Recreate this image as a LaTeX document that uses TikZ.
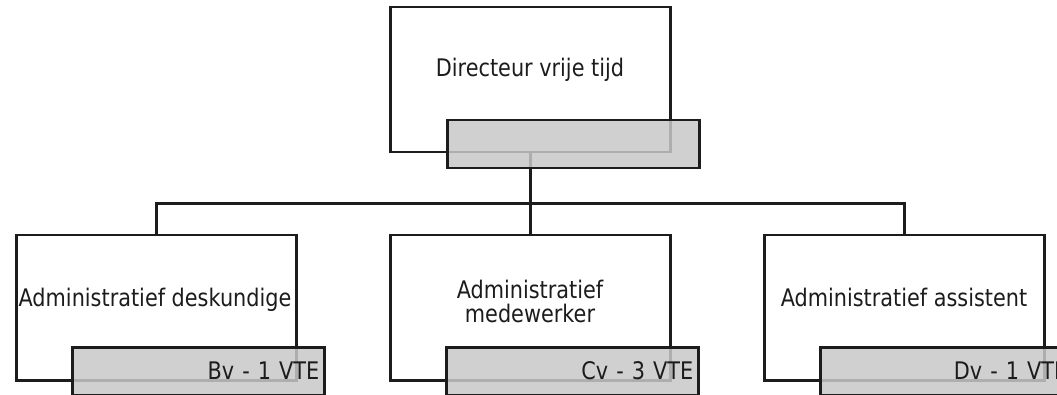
\documentclass[tikz,border=0pt]{standalone}
\usepackage{fontspec}
\setmainfont{DejaVu Sans}[FakeStretch=0.86]
\usepackage{tikz}
\definecolor{ink}{HTML}{1C1C1C}
\definecolor{tag}{RGB}{200,200,200}

\begin{document}
\begin{tikzpicture}
		[x=1pt, y=-1pt, line width=2.5pt, font=\fontsize{24.2}{24}\selectfont,
		box/.style = {draw=ink, fill=white, minimum width=280pt, minimum height=145pt, inner sep=0pt},
		tag/.style = {draw=ink, fill=tag, fill opacity=0.85, text opacity=1, minimum width=252pt, minimum height=48pt,
			text width=242pt, inner xsep=5pt, inner ysep=0pt, align=right, text height=17pt, text depth=0pt, text=ink},
		txt/.style = {text=ink, inner sep=0pt}]
	\useasboundingbox (0,0) rectangle (1057,395);
	\node[box, anchor=north west] (dir) at (389,6) {};
	\node[box, anchor=north west] (ad) at (15,234) {};
	\node[box, anchor=north west] (am) at (389,234) {};
	\node[box, anchor=north west] (as) at (763,234) {};
	\path (dir.south) ++(0,50) coordinate (split);
	\draw[ink] (dir.south) -- (split);
	\draw[ink] (split) -| (ad.north);
	\draw[ink] (split) -- (am.north);
	\draw[ink] (split) -| (as.north);
	\node[txt, anchor=base] (dir-t) at (530,77) {Directeur vrije tijd};
	\node[txt, anchor=base] (ad-t) at (155,306) {Administratief deskundige};
	\node[txt, anchor=center, align=center] (am-t) at (530,301) {Administratief\\medewerker};
	\node[txt, anchor=base] (as-t) at (904,306) {Administratief assistent};
	\node[tag, anchor=north west] (dir-v) at (446,119) {};
	\node[tag, anchor=north west] (bv) at (71,346) {Bv - 1 VTE};
	\node[tag, anchor=north west] (cv) at (445,346) {Cv - 3 VTE};
	\node[tag, anchor=north west] (dv) at (819,346) {Dv - 1 VTE};
\end{tikzpicture}
\end{document}
